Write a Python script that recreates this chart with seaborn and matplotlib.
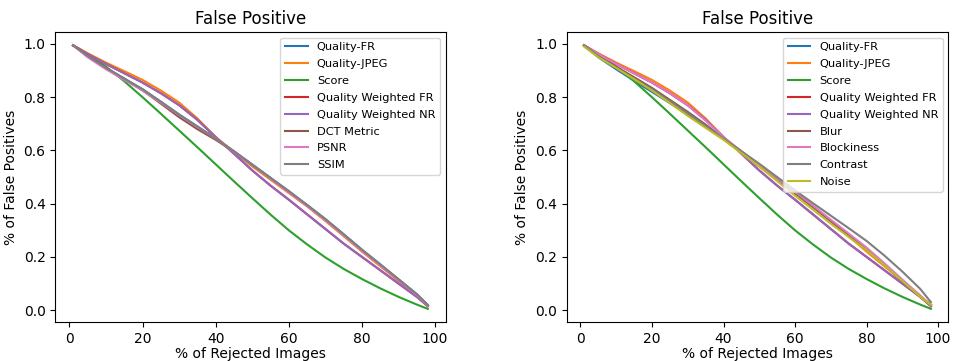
import seaborn as sns
import matplotlib.pyplot as plt

# % of rejected images
x = [1, 5, 10, 15, 20, 25, 30, 35, 40, 45, 50, 55, 60, 65, 70, 75, 80, 85, 90, 95, 98]

# curves shared by both panels
quality_jpeg = [0.995, 0.965, 0.93, 0.898, 0.865, 0.825, 0.78, 0.72, 0.65, 0.595, 0.54,
                0.49, 0.44, 0.39, 0.335, 0.278, 0.22, 0.165, 0.11, 0.055, 0.016]
score = [0.995, 0.96, 0.915, 0.86, 0.80, 0.738, 0.675, 0.612, 0.548, 0.484, 0.421,
         0.359, 0.30, 0.247, 0.198, 0.155, 0.117, 0.082, 0.05, 0.021, 0.005]
weighted_nr = [0.995, 0.962, 0.925, 0.89, 0.855, 0.815, 0.77, 0.715, 0.65, 0.588, 0.525,
               0.468, 0.415, 0.36, 0.305, 0.25, 0.20, 0.15, 0.10, 0.05, 0.015]

# left panel
ssim = [0.995, 0.955, 0.91, 0.87, 0.83, 0.783, 0.735, 0.69, 0.645, 0.597, 0.547,
        0.497, 0.447, 0.395, 0.342, 0.285, 0.227, 0.172, 0.116, 0.06, 0.019]
dct_metric = [0.995, 0.955, 0.91, 0.868, 0.826, 0.776, 0.725, 0.68, 0.64, 0.595, 0.545,
              0.495, 0.445, 0.393, 0.34, 0.283, 0.225, 0.17, 0.114, 0.058, 0.018]
psnr = [0.995, 0.95, 0.905, 0.865, 0.825, 0.78, 0.733, 0.688, 0.645, 0.595, 0.545,
        0.494, 0.443, 0.391, 0.338, 0.281, 0.223, 0.168, 0.113, 0.057, 0.017]
left_quality_fr = ssim

# right panel
right_quality_fr = [0.995, 0.95, 0.905, 0.862, 0.82, 0.778, 0.735, 0.69, 0.645, 0.595, 0.545,
                    0.493, 0.44, 0.388, 0.335, 0.283, 0.23, 0.17, 0.11, 0.05, 0.02]
blur = [0.995, 0.955, 0.915, 0.875, 0.835, 0.79, 0.745, 0.697, 0.645, 0.595, 0.545,
        0.493, 0.44, 0.388, 0.335, 0.283, 0.23, 0.17, 0.11, 0.05, 0.02]
blockiness = [0.995, 0.962, 0.925, 0.89, 0.855, 0.815, 0.77, 0.712, 0.65, 0.597, 0.545,
              0.495, 0.445, 0.393, 0.34, 0.288, 0.235, 0.176, 0.115, 0.055, 0.02]
contrast = [0.995, 0.955, 0.91, 0.87, 0.83, 0.785, 0.74, 0.692, 0.645, 0.597, 0.55,
            0.5, 0.45, 0.402, 0.355, 0.308, 0.26, 0.205, 0.145, 0.08, 0.03]
noise = [0.99, 0.95, 0.91, 0.868, 0.825, 0.778, 0.73, 0.685, 0.64, 0.59, 0.54,
         0.485, 0.43, 0.378, 0.325, 0.275, 0.225, 0.168, 0.11, 0.05, 0.02]

left_series = {
    'Quality-FR': left_quality_fr,
    'Quality-JPEG': quality_jpeg,
    'Score': score,
    'Quality Weighted FR': weighted_nr,
    'Quality Weighted NR': weighted_nr,
    'DCT Metric': dct_metric,
    'PSNR': psnr,
    'SSIM': ssim,
}
right_series = {
    'Quality-FR': right_quality_fr,
    'Quality-JPEG': quality_jpeg,
    'Score': score,
    'Quality Weighted FR': weighted_nr,
    'Quality Weighted NR': weighted_nr,
    'Blur': blur,
    'Blockiness': blockiness,
    'Contrast': contrast,
    'Noise': noise,
}

colors = sns.color_palette('tab10', 10)

fig = plt.figure(figsize=(9.54, 3.61), dpi=100)
ax_left = fig.add_axes([0.058, 0.108, 0.409, 0.803])
ax_right = fig.add_axes([0.594, 0.108, 0.40, 0.803])

for ax, series in zip([ax_left, ax_right], [left_series, right_series]):
    for i, (name, vals) in enumerate(series.items()):
        sns.lineplot(x=x, y=vals, color=colors[i], label=name, linewidth=1.5, ax=ax)
    ax.set_title('False Positive')
    ax.set_xlabel('% of Rejected Images', labelpad=1)
    ax.set_ylabel('% of False Positives')
    ax.set_xticks([0, 20, 40, 60, 80, 100])
    ax.legend(loc='upper right', fontsize=8.2, labelspacing=0.6)

plt.savefig('out.png')
